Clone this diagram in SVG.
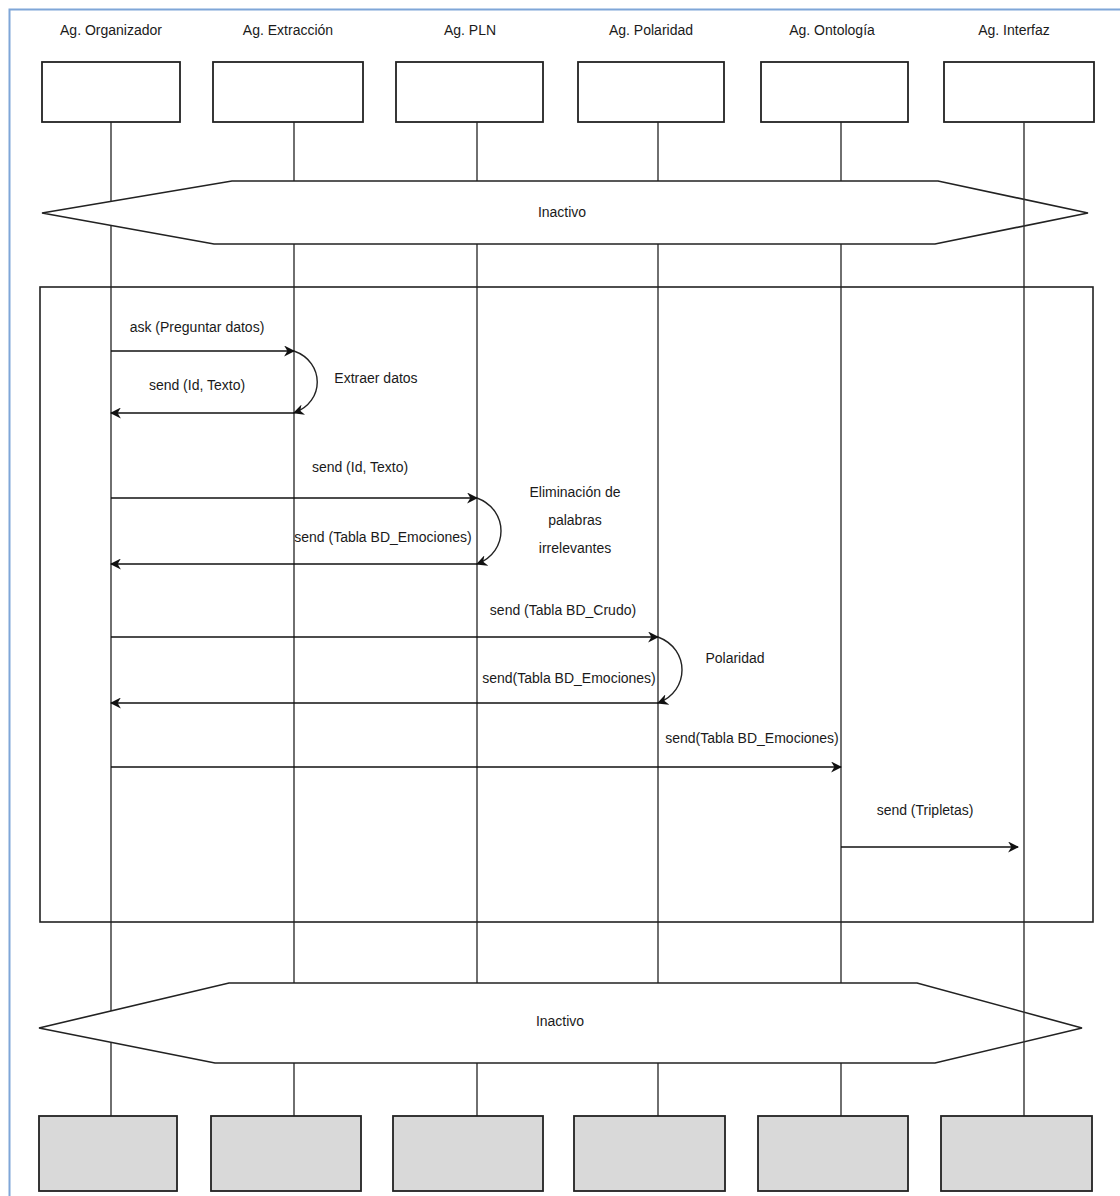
<svg xmlns="http://www.w3.org/2000/svg" width="1120" height="1196" viewBox="0 0 1120 1196">
<style>
text{font-family:"Liberation Sans",Arial,sans-serif;font-size:14px;fill:#1a1a1a;text-anchor:middle}
.box{fill:#fff;stroke:#222;stroke-width:1.8}
.gbox{fill:#d9d9d9;stroke:#222;stroke-width:1.8}
.life{stroke:#333;stroke-width:1.4;fill:none}
.hex{fill:#fff;stroke:#222;stroke-width:1.6}
.frag{fill:none;stroke:#222;stroke-width:1.6}
.msg{stroke:#111;stroke-width:1.6;fill:none;marker-end:url(#ah)}
.arc{stroke:#222;stroke-width:1.4;fill:none;marker-end:url(#ah)}
</style>
<defs>
<marker id="ah" viewBox="0 0 10 10" refX="9" refY="5" markerWidth="11" markerHeight="11" markerUnits="userSpaceOnUse" orient="auto">
<path d="M0,0 L10,5 L0,10 L3,5 z" fill="#111"/>
</marker>
</defs>
<rect x="0" y="0" width="1120" height="1196" fill="#fff"/>
<path d="M9.5,1196 V9.5 H1120" fill="none" stroke="#7fa6d8" stroke-width="2"/>

<g id="lifelines">
<line class="life" x1="111" y1="122" x2="111" y2="1116"/>
<line class="life" x1="294" y1="122" x2="294" y2="1116"/>
<line class="life" x1="477" y1="122" x2="477" y2="1116"/>
<line class="life" x1="658" y1="122" x2="658" y2="1116"/>
<line class="life" x1="841" y1="122" x2="841" y2="1116"/>
</g>

<g id="agent-organizador"><text x="111" y="35">Ag. Organizador</text><rect class="box" x="42" y="62" width="138" height="60"/></g>
<g id="agent-extraccion"><text x="288" y="35">Ag. Extracción</text><rect class="box" x="213" y="62" width="150" height="60"/></g>
<g id="agent-pln"><text x="470" y="35">Ag. PLN</text><rect class="box" x="396" y="62" width="147" height="60"/></g>
<g id="agent-polaridad"><text x="651" y="35">Ag. Polaridad</text><rect class="box" x="578" y="62" width="146" height="60"/></g>
<g id="agent-ontologia"><text x="832" y="35">Ag. Ontología</text><rect class="box" x="761" y="62" width="147" height="60"/></g>
<g id="agent-interfaz"><text x="1014" y="35">Ag. Interfaz</text><rect class="box" x="944" y="62" width="150" height="60"/></g>

<g id="inactivo-top"><polygon class="hex" points="42,213 232,181 938,181 1088,213 935,244 214,244"/><text x="562" y="217">Inactivo</text></g>
<g id="inactivo-bottom"><polygon class="hex" points="39,1028 229,983 917,983 1082,1028 935,1063 215,1063"/><text x="560" y="1026">Inactivo</text></g>

<g id="lifeline-interfaz"><line class="life" x1="1024" y1="122" x2="1024" y2="1116" stroke="#666"/></g>

<g id="fragment"><rect class="frag" x="40" y="287" width="1053" height="635"/></g>

<g id="end-organizador"><rect class="gbox" x="39" y="1116" width="138" height="75"/></g>
<g id="end-extraccion"><rect class="gbox" x="211" y="1116" width="150" height="75"/></g>
<g id="end-pln"><rect class="gbox" x="393" y="1116" width="150" height="75"/></g>
<g id="end-polaridad"><rect class="gbox" x="574" y="1116" width="151" height="75"/></g>
<g id="end-ontologia"><rect class="gbox" x="758" y="1116" width="150" height="75"/></g>
<g id="end-interfaz"><rect class="gbox" x="941" y="1116" width="151" height="75"/></g>

<g id="connectors">
<line class="msg" x1="111" y1="351" x2="294" y2="351"/>
<path class="arc" d="M294,351 C325,362 325,402 294,413"/>
<line class="msg" x1="294" y1="413" x2="111" y2="413"/>
<line class="msg" x1="111" y1="498" x2="477" y2="498"/>
<path class="arc" d="M477,498 C509,510 509,552 477,564"/>
<line class="msg" x1="477" y1="564" x2="111" y2="564"/>
<line class="msg" x1="111" y1="637" x2="658" y2="637"/>
<path class="arc" d="M658,637 C690,649 690,691 658,703"/>
<line class="msg" x1="658" y1="703" x2="111" y2="703"/>
<line class="msg" x1="111" y1="767" x2="841" y2="767"/>
<line class="msg" x1="841" y1="847" x2="1018" y2="847"/>
</g>

<g id="labels">
<text x="197" y="332">ask (Preguntar datos)</text>
<text x="197" y="390">send (Id, Texto)</text>
<text x="376" y="383">Extraer datos</text>
<text x="360" y="472">send (Id, Texto)</text>
<text x="383" y="542">send (Tabla BD_Emociones)</text>
<text x="575" y="497">Eliminación de</text>
<text x="575" y="525">palabras</text>
<text x="575" y="553">irrelevantes</text>
<text x="563" y="615">send (Tabla BD_Crudo)</text>
<text x="569" y="683">send(Tabla BD_Emociones)</text>
<text x="735" y="663">Polaridad</text>
<text x="752" y="743">send(Tabla BD_Emociones)</text>
<text x="925" y="815">send (Tripletas)</text>
</g>
</svg>
